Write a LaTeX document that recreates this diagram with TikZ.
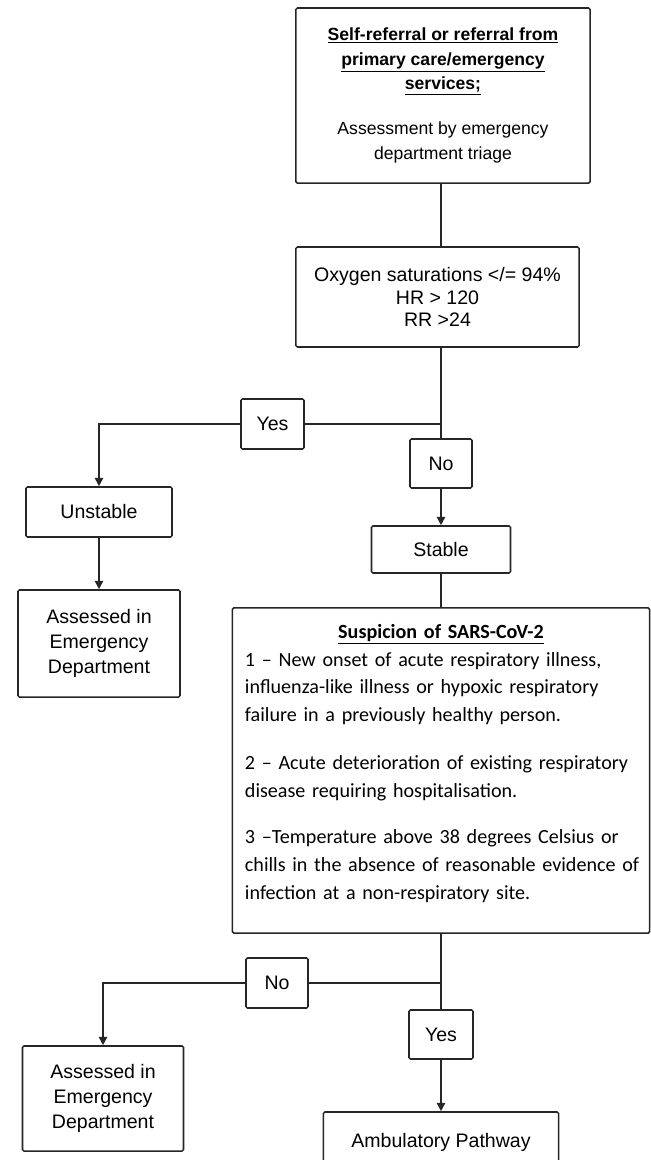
\documentclass[tikz,border=0pt]{standalone}
\usepackage{fontspec}
\setmainfont{Liberation Sans}
\newfontfamily\calibri{Carlito}
\usetikzlibrary{arrows.meta, positioning}

\begin{document}
\begin{tikzpicture}[x=0.025cm, y=-0.025cm, >={Triangle[length=6pt, width=6pt]},
		box/.style={rectangle, draw=black!85, fill=white, line width=1.1pt, rounded corners=1pt, align=center, font=\fontsize{13.9}{16}\selectfont},
		link/.style={draw=black!85, line width=1.1pt}]
		
		\useasboundingbox (0,0) rectangle (651,1160);
		
		% Triagem
		\node[box, minimum width=7.35cm, minimum height=4.375cm, font=\fontsize{12.5}{17.5}\selectfont] (refer) at (443,95.5)
			{\underline{\textbf{Self-referral or referral from}}\\ \underline{\textbf{primary care/emergency}}\\ \underline{\textbf{services;}}\\[14.5pt] Assessment by emergency\\ department triage};
		\node[box, minimum width=7.075cm, minimum height=2.5cm] (oxy) at (437.5,297)
			{Oxygen saturations </= 94\%\\ HR > 120\\ RR >24};
		
		% Ramo 1
		\coordinate (j1) at (441,424);
		\node[box, minimum width=1.575cm, minimum height=1.25cm] (yes1) at (272.5,424) {Yes};
		\node[box, minimum width=1.55cm, minimum height=1.225cm] (no1) at (441,463.5) {No};
		\node[box, minimum width=3.65cm, minimum height=1.25cm] (unstable) at (99,512) {Unstable};
		\node[box, minimum width=3.475cm, minimum height=1.175cm] (stable) at (441,549.5) {Stable};
		\node[box, minimum width=4.05cm, minimum height=2.675cm, font=\fontsize{13.9}{18}\selectfont] (ed1) at (99,643.5)
			{Assessed in\\ Emergency\\ Department};
		
		% Suspeita
		\node[box, minimum width=10.425cm, minimum height=8.125cm, text width=9.8cm, inner xsep=0.31cm, align=left, font=\calibri\fontsize{14.3}{19.8}\selectfont] (susp) at (441,770.5)
			{{\centering\textbf{\underline{Suspicion of SARS-CoV-2}}\par}
			1 – New onset of acute respiratory illness,\\
			influenza-like illness or hypoxic respiratory\\
			failure in a previously healthy person.\par\vspace{14pt}
			2 – Acute deterioration of existing respiratory\\
			disease requiring hospitalisation.\par\vspace{13.5pt}
			3 –Temperature above 38 degrees Celsius or\\
			\mbox{chills in the absence of reasonable evidence of}\\
			infection at a non-respiratory site.\par\kern10pt};
		
		% Ramo 2
		\coordinate (j2) at (441,983);
		\node[box, minimum width=1.55cm, minimum height=1.25cm] (no2) at (277,983) {No};
		\node[box, minimum width=1.6cm, minimum height=1.225cm] (yes2) at (441,1034.5) {Yes};
		\node[box, minimum width=4.025cm, minimum height=2.625cm, font=\fontsize{13.9}{18}\selectfont] (ed2) at (103,1098.5)
			{Assessed in\\ Emergency\\ Department};
		\node[box, minimum width=5.875cm, minimum height=1.5cm] (ambul) at (441,1142) {Ambulatory Pathway};
		
		% Arestas
		\draw[link] (refer.south -| j1) -- (oxy.north -| j1);
		\draw[link] (oxy.south -| j1) -- (j1) -- (no1);
		\draw[link] (j1) -- (yes1);
		\draw[link, ->] (yes1) -| (unstable);
		\draw[link, ->] (unstable) -- (ed1);
		\draw[link, ->] (no1) -- (stable);
		\draw[link] (stable) -- (susp);
		
		\draw[link] (susp.south -| j2) -- (j2) -- (yes2);
		\draw[link] (j2) -- (no2);
		\draw[link, ->] (no2) -| (ed2);
		\draw[link, ->] (yes2) -- (ambul);
		
	\end{tikzpicture}
\end{document}
